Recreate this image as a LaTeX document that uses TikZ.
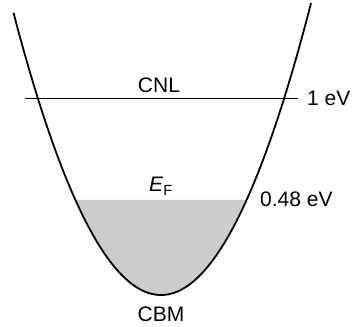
\documentclass[tikz,border=0pt]{standalone}
\usepackage{fontspec}
\setmainfont{Liberation Sans}
\begin{document}
\begin{tikzpicture}[x=1pt,y=1pt,
  lbl/.style={font=\fontsize{21}{25}\selectfont, inner sep=0pt},
  band/.style={line width=1.8pt},
  level/.style={line width=1pt}]
\useasboundingbox (0,0) rectangle (352,326);
\fill[gray!40] plot[domain=-8.56:8.56, samples=80] ({161+10*\x},{31+1.297*\x*\x}) -- cycle;
\draw[band] plot[domain=-14.75:15, samples=120] ({161+10*\x},{31+1.297*\x*\x});
\coordinate (cl) at (25,227);
\coordinate (cr) at (298,227);
\draw[level] (cl) -- (cr);
\node[lbl, anchor=base] (cnl) at (159,233) {CNL};
\node[lbl, anchor=base west] (one) at (307,220) {1 eV};
\node[lbl, anchor=base west] (half) at (260,119) {0.48 eV};
\node[lbl, anchor=base] (ef) at (161,134) {\textit{E}\textsubscript{F}};
\node[lbl, anchor=base] (cbm) at (161,5) {CBM};
\end{tikzpicture}
\end{document}
